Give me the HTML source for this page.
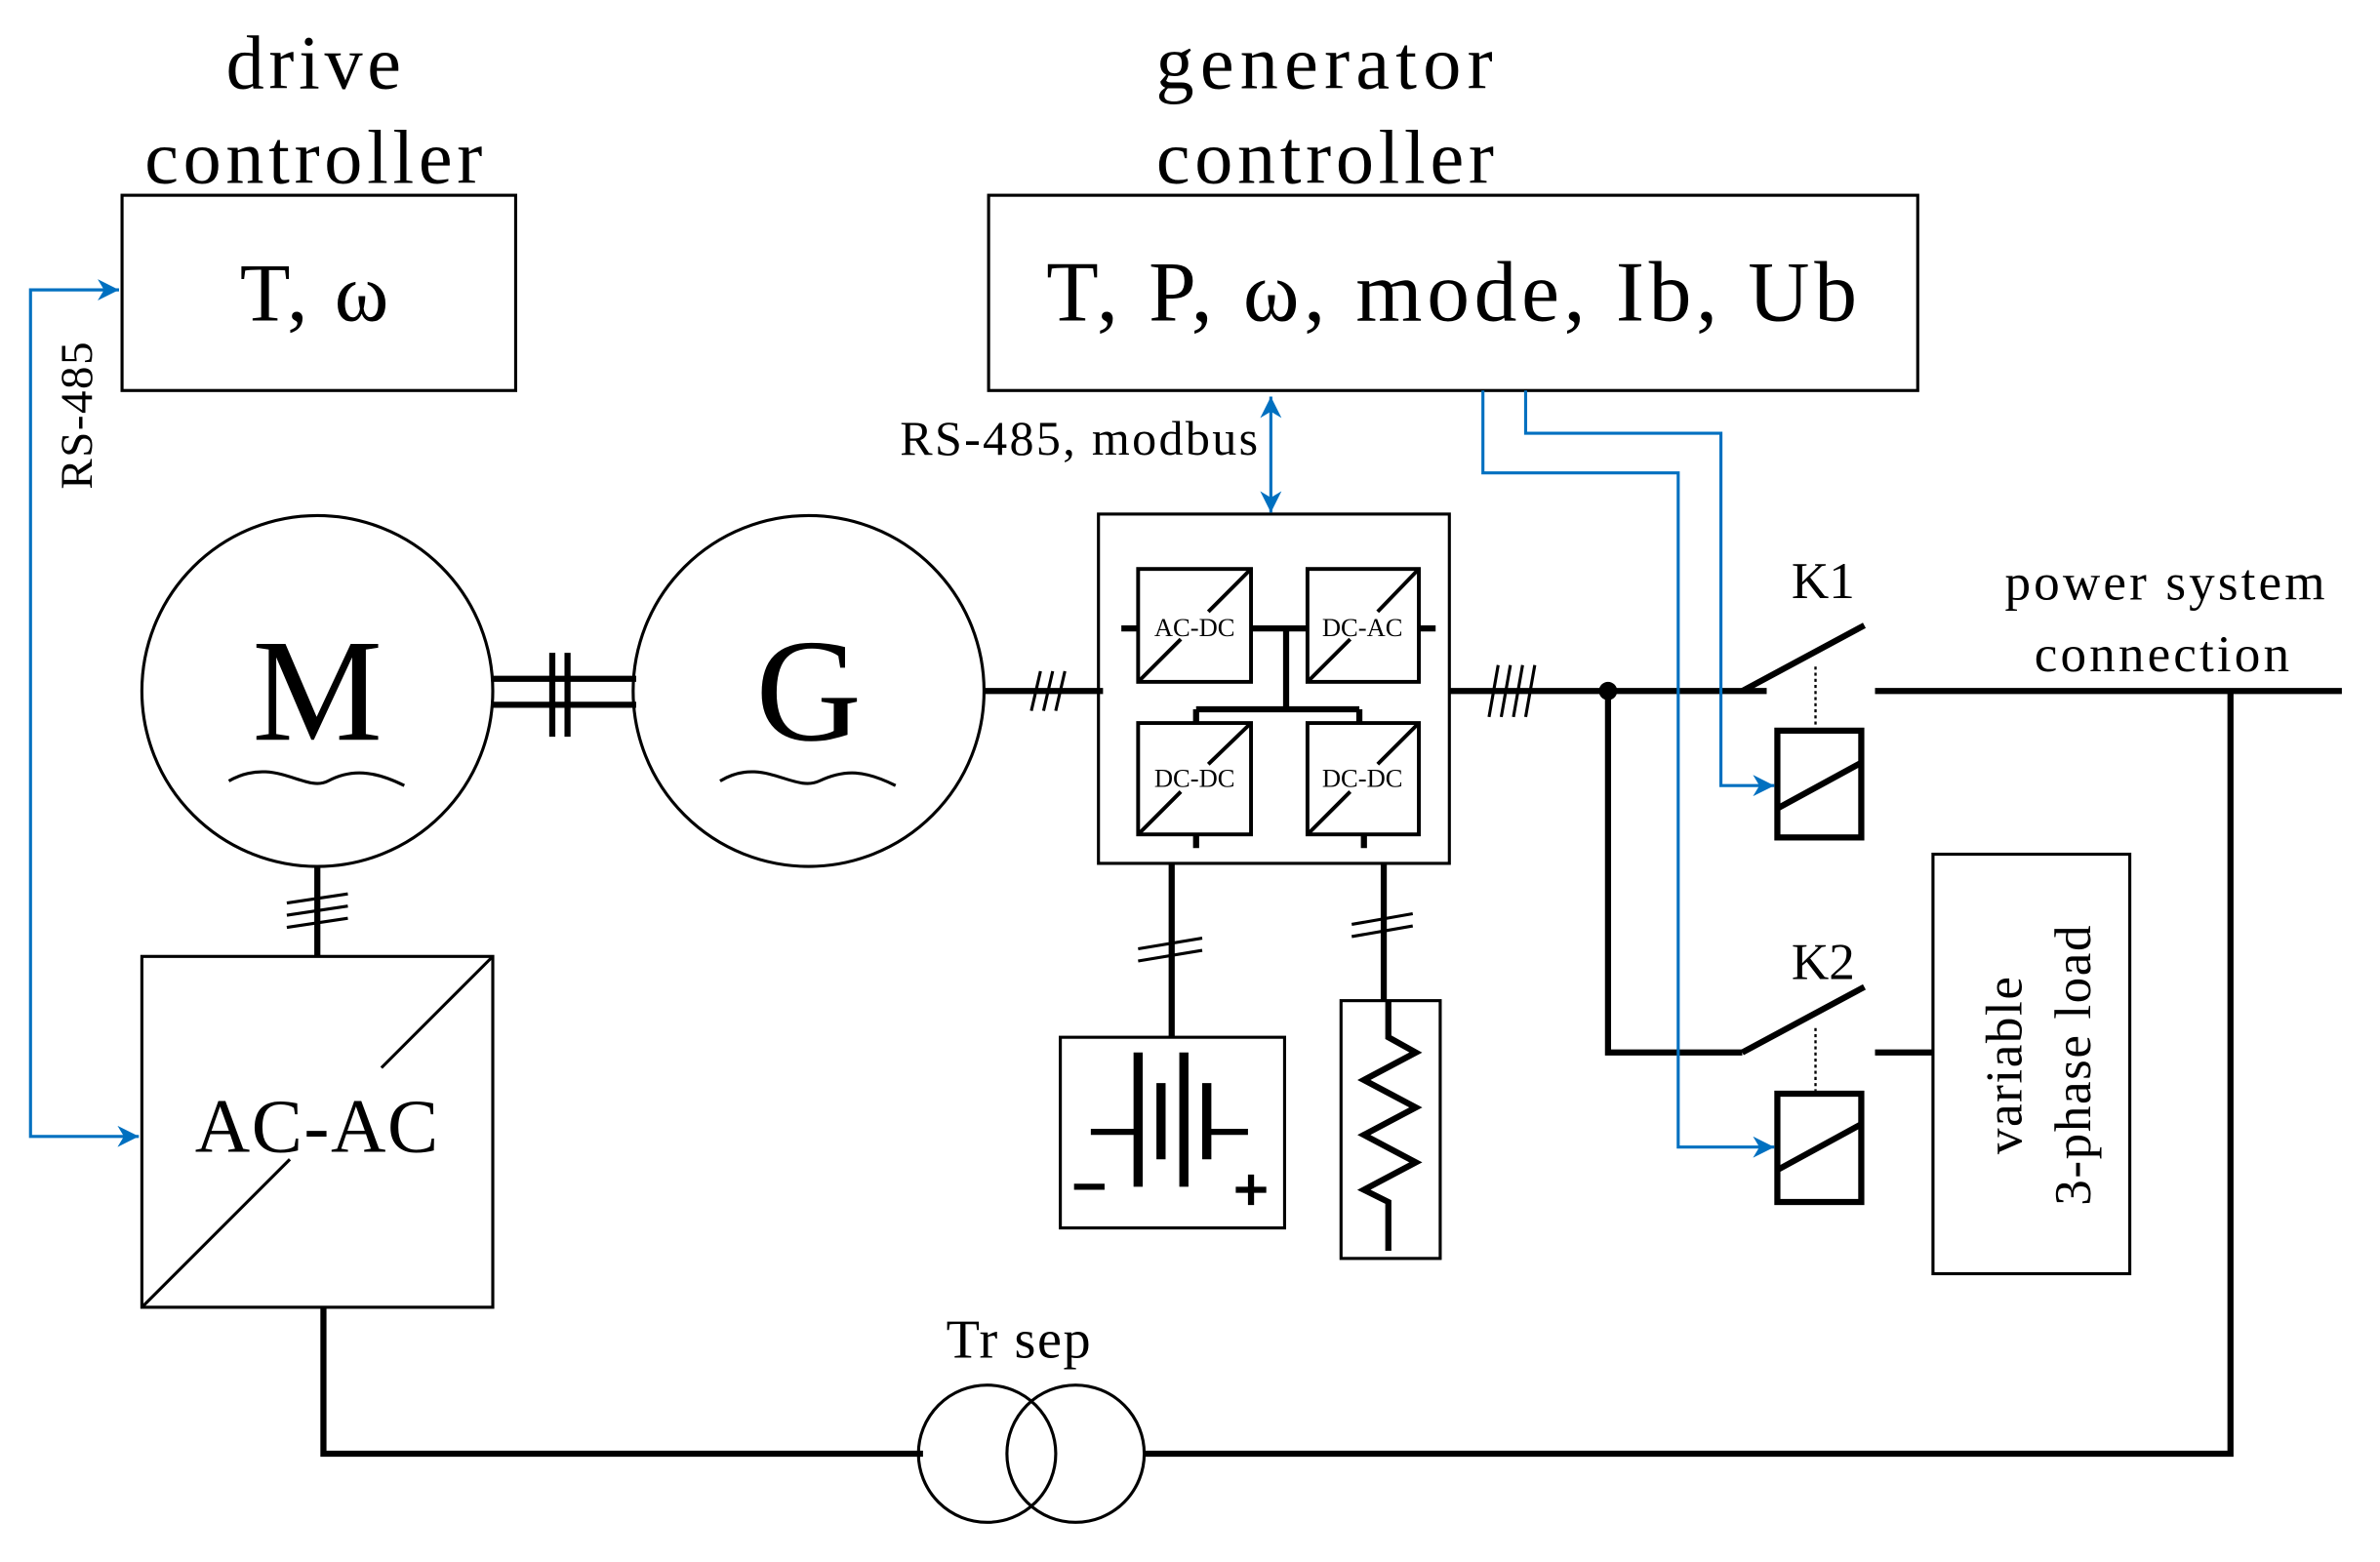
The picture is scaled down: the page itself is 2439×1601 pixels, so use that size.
<!DOCTYPE html>
<html><head><meta charset="utf-8"><style>html,body{margin:0;padding:0;background:#fff}svg{display:block}</style></head><body>
<svg width="2439" height="1601" viewBox="0 0 1560 1024" xmlns="http://www.w3.org/2000/svg" font-family="Liberation Serif, serif">
<defs>
<marker id="ab" viewBox="0 0 10 10" refX="10" refY="5" markerWidth="7" markerHeight="7" orient="auto-start-reverse"><path d="M0,0 L10,5 L0,10 L3,5 z" fill="#0070c0"/></marker>
</defs>
<g fill="none" stroke="#000">
<rect x="80" y="128" width="258" height="128" stroke-width="2"/>
<rect x="648" y="128" width="609" height="128" stroke-width="2"/>
<circle cx="208" cy="453" r="115" stroke-width="2"/>
<circle cx="530" cy="453" r="115" stroke-width="2"/>
<path d="M150,512 C180,495 200,520 215,512 S245,505 265,515" stroke-width="2"/>
<path d="M472,512 C500,495 520,520 537,512 S567,505 587,515" stroke-width="2"/>
<path d="M322,445 H417 M322,462 H417" stroke-width="4"/>
<path d="M362,428 V483 M372,428 V483" stroke-width="4"/>
<path d="M645,453 H723" stroke-width="4"/>
<path d="M676,466 L682,440 M684,466 L690,440 M692,466 L698,440" stroke-width="2"/>
<rect x="720" y="337" width="230" height="229" stroke-width="2"/>
<g stroke-width="2.5">
<rect x="746" y="373" width="74" height="74"/>
<rect x="857" y="373" width="73" height="74"/>
<rect x="746" y="474" width="74" height="73"/>
<rect x="857" y="474" width="73" height="73"/>
<path d="M746,447 L774,419 M792,401 L820,373 M857,447 L885,419 M903,401 L930,373 M746,547 L774,519 M792,501 L820,474 M857,547 L885,519 M903,501 L930,474"/>
</g>
<path d="M735,412 H746 M930,412 H941" stroke-width="4"/>
<path d="M820,412 H857 M843,412 V465 M784,465 H891 M784,465 V474 M891,465 V474 M784,547 V556 M894,547 V556" stroke-width="4"/>
<path d="M950,453 H1158 M1229,453 H1535" stroke-width="4"/>
<path d="M1142,453 L1222,410 M1142,690 L1222,647" stroke-width="4"/>
<path d="M976,470 L982,436 M984,470 L990,436 M992,470 L998,436 M1000,470 L1006,436" stroke-width="2"/>
<circle cx="1054" cy="453" r="6" fill="#000" stroke="none"/>
<path d="M1054,453 V690 H1142 M1229,690 H1267" stroke-width="4"/>
<path d="M1462,453 V953 H750" stroke-width="4"/>
<path d="M1190,437 V477 M1190,674 V715" stroke-width="1.5" stroke-dasharray="2,2"/>
<rect x="1165" y="479" width="55" height="70" stroke-width="4"/>
<rect x="1165" y="717" width="55" height="71" stroke-width="4"/>
<path d="M1165,530 L1220,500 M1165,767 L1220,737" stroke-width="4"/>
<rect x="1267" y="560" width="129" height="275" stroke-width="2"/>
<rect x="93" y="627" width="230" height="230" stroke-width="2"/>
<path d="M93,857 L190,760 M250,700 L323,627" stroke-width="2"/>
<path d="M208,568 V627" stroke-width="4"/>
<path d="M188,592 L228,586 M188,600 L228,594 M188,608 L228,602" stroke-width="2"/>
<path d="M212,857 V953 H605" stroke-width="4"/>
<circle cx="647" cy="953" r="45" stroke-width="2"/>
<circle cx="705" cy="953" r="45" stroke-width="2"/>
<path d="M768,566 V680 M907,566 V656" stroke-width="4"/>
<path d="M746,622 L788,615 M746,630 L788,623 M886,606 L926,599 M886,614 L926,607" stroke-width="2"/>
<rect x="695" y="680" width="147" height="125" stroke-width="2"/>
<path d="M715,742 H745 M790,742 H818" stroke-width="4"/>
<path d="M746,690 V778 M776,690 V778" stroke-width="6"/>
<path d="M761,710 V760 M791,710 V760" stroke-width="6"/>
<path d="M704,778 H724 M810,780 H830 M820,770 V790" stroke-width="4"/>
<rect x="879" y="656" width="65" height="169" stroke-width="2"/>
<path d="M910,656 V680 L928,690 L894,708 L928,726 L894,744 L928,762 L894,780 L910,788 V820" stroke-width="4"/>
</g>
<g fill="none" stroke="#0070c0" stroke-width="2">
<path d="M78,190 H20 V745 H91" marker-end="url(#ab)"/>
<path d="M20,190 H78" marker-end="url(#ab)"/>
<path d="M833,260 V336" marker-start="url(#ab)" marker-end="url(#ab)"/>
<path d="M972,256 V310 H1100 V752 H1163" marker-end="url(#ab)"/>
<path d="M1000,256 V284 H1128 V515 H1163" marker-end="url(#ab)"/>
</g>
<g fill="#000" text-anchor="middle">
<text x="207" y="58" font-size="50" letter-spacing="3">drive</text>
<text x="207" y="120" font-size="50" letter-spacing="3">controller</text>
<text x="207" y="210" font-size="54" letter-spacing="2">T, ω</text>
<text x="870" y="58" font-size="50" letter-spacing="4">generator</text>
<text x="870" y="120" font-size="50" letter-spacing="3">controller</text>
<text x="953" y="210" font-size="56" letter-spacing="3">T, P,  ω, mode, Ib, Ub</text>
<text x="208" y="485" font-size="96">M</text>
<text x="530" y="485" font-size="96">G</text>
<text x="208" y="755" font-size="50" letter-spacing="1">AC-AC</text>
<text x="668" y="890" font-size="36" letter-spacing="1">Tr sep</text>
<text x="1195" y="392" font-size="34">K1</text>
<text x="1195" y="642" font-size="34">K2</text>
<text x="1420" y="393" font-size="34" letter-spacing="2">power system</text>
<text x="1418" y="440" font-size="34" letter-spacing="2">connection</text>
<text x="783" y="417" font-size="17">AC-DC</text>
<text x="893" y="417" font-size="17">DC-AC</text>
<text x="783" y="516" font-size="17">DC-DC</text>
<text x="893" y="516" font-size="17">DC-DC</text>
<text x="0" y="0" font-size="34" letter-spacing="1" transform="translate(1325,698) rotate(-90)">variable</text>
<text x="0" y="0" font-size="34" letter-spacing="1" transform="translate(1370,698) rotate(-90)">3-phase load</text>
<text x="0" y="0" font-size="30" letter-spacing="1" transform="translate(60,272) rotate(-90)">RS-485</text>
<text x="826" y="298" font-size="32" letter-spacing="1.5" text-anchor="end">RS-485, modbus</text>
</g>
</svg>
</body></html>
